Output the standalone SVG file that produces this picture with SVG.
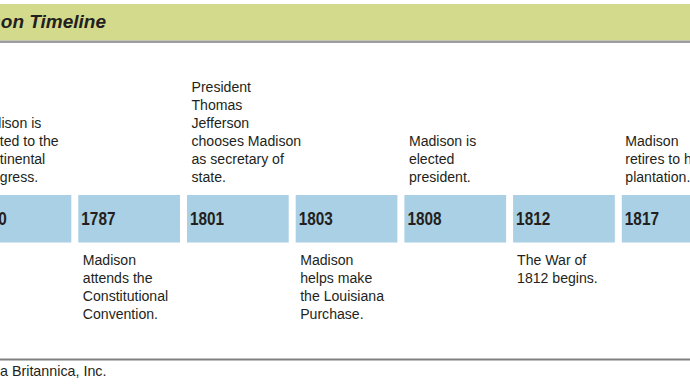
<svg xmlns="http://www.w3.org/2000/svg" width="690" height="388" viewBox="0 0 690 388">
<style>
  .band { fill: #d4da8c; }
  .rule { fill: #9c9ea0; }
  .title { font-family: "Liberation Sans", Arial, sans-serif; font-weight: bold; font-style: italic; font-size: 19px; fill: #231f20; }
  .box { fill: #a9d0e4; }
  .year { font-family: "Liberation Sans", Arial, sans-serif; font-weight: bold; font-size: 18.5px; fill: #231f20; }
  .desc { font-family: "Liberation Sans", Arial, sans-serif; font-size: 15.5px; fill: #231f20; }
  .credit { font-family: "Liberation Sans", Arial, sans-serif; font-size: 14.3px; fill: #231f20; }
</style>
<rect width="690" height="388" fill="#ffffff"/>

<g id="header">
  <rect class="band" x="0" y="4" width="690" height="36.5"/>
  <rect class="rule" x="0" y="40.5" width="690" height="2.5"/>
  <text class="title" x="106" y="28" text-anchor="end">James Madison Timeline</text>
</g>

<g id="connectors"></g>

<g id="y1780">
  <rect class="box" x="-30.4" y="195" width="101.7" height="47.5"/>
  <text class="year" transform="translate(-27.4,225) scale(0.83,1)">1780</text>
  <text class="desc" transform="translate(-26,146) scale(0.91,1)">
    <tspan x="0" y="-18">Madison is</tspan><tspan x="0" y="0">elected to the</tspan><tspan x="0" y="18">Continental</tspan><tspan x="0" y="36">Congress.</tspan>
  </text>
</g>

<g id="y1787">
  <rect class="box" x="78.3" y="195" width="101.7" height="47.5"/>
  <text class="year" transform="translate(81.3,225) scale(0.83,1)">1787</text>
  <text class="desc" transform="translate(82.8,265) scale(0.91,1)">
    <tspan x="0" y="0">Madison</tspan><tspan x="0" y="18">attends the</tspan><tspan x="0" y="36">Constitutional</tspan><tspan x="0" y="54">Convention.</tspan>
  </text>
</g>

<g id="y1801">
  <rect class="box" x="187" y="195" width="101.7" height="47.5"/>
  <text class="year" transform="translate(190,225) scale(0.83,1)">1801</text>
  <text class="desc" transform="translate(191.5,92) scale(0.91,1)">
    <tspan x="0" y="0">President</tspan><tspan x="0" y="18">Thomas</tspan><tspan x="0" y="36">Jefferson</tspan><tspan x="0" y="54">chooses Madison</tspan><tspan x="0" y="72">as secretary of</tspan><tspan x="0" y="90">state.</tspan>
  </text>
</g>

<g id="y1803">
  <rect class="box" x="295.7" y="195" width="101.7" height="47.5"/>
  <text class="year" transform="translate(298.7,225) scale(0.83,1)">1803</text>
  <text class="desc" transform="translate(300.2,265) scale(0.91,1)">
    <tspan x="0" y="0">Madison</tspan><tspan x="0" y="18">helps make</tspan><tspan x="0" y="36">the Louisiana</tspan><tspan x="0" y="54">Purchase.</tspan>
  </text>
</g>

<g id="y1808">
  <rect class="box" x="404.4" y="195" width="101.7" height="47.5"/>
  <text class="year" transform="translate(407.4,225) scale(0.83,1)">1808</text>
  <text class="desc" transform="translate(408.9,146) scale(0.91,1)">
    <tspan x="0" y="0">Madison is</tspan><tspan x="0" y="18">elected</tspan><tspan x="0" y="36">president.</tspan>
  </text>
</g>

<g id="y1812">
  <rect class="box" x="513.1" y="195" width="101.7" height="47.5"/>
  <text class="year" transform="translate(516.1,225) scale(0.83,1)">1812</text>
  <text class="desc" transform="translate(517.1,265) scale(0.91,1)">
    <tspan x="0" y="0">The War of</tspan><tspan x="0" y="18">1812 begins.</tspan>
  </text>
</g>

<g id="y1817">
  <rect class="box" x="621.8" y="195" width="101.7" height="47.5"/>
  <text class="year" transform="translate(624.8,225) scale(0.83,1)">1817</text>
  <text class="desc" transform="translate(625.3,146) scale(0.91,1)">
    <tspan x="0" y="0">Madison</tspan><tspan x="0" y="18">retires to his</tspan><tspan x="0" y="36">plantation.</tspan>
  </text>
</g>

<g id="footer">
  <rect x="0" y="358.5" width="690" height="2" fill="#808080"/>
  <text class="credit" x="106.5" y="376" text-anchor="end">© Encyclopædia Britannica, Inc.</text>
</g>
</svg>
